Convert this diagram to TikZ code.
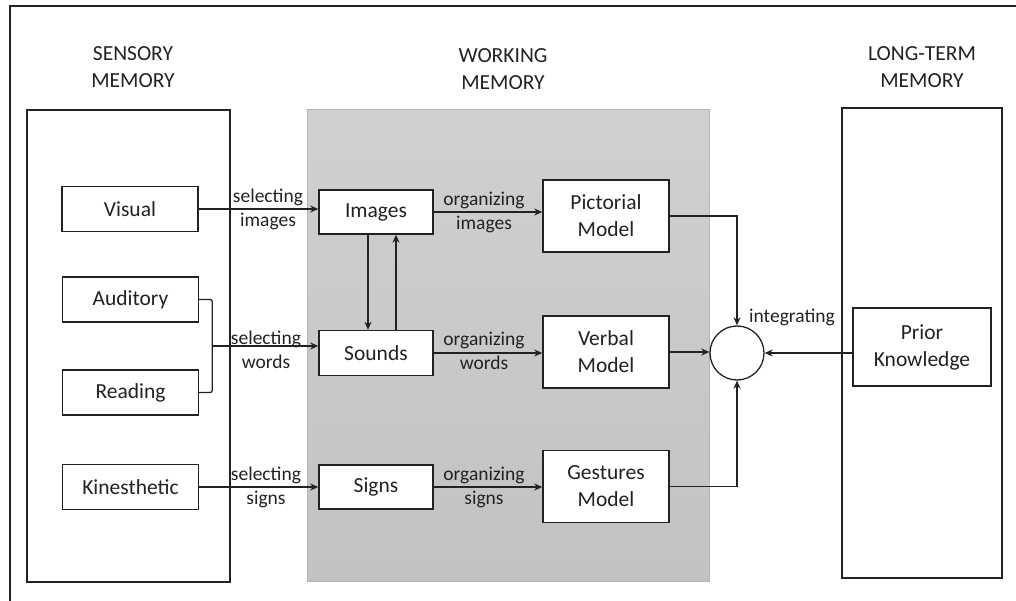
\documentclass[tikz,border=0pt]{standalone}
\usepackage{fontspec}
\setmainfont{Carlito}
\usetikzlibrary{arrows.meta,calc}
\definecolor{ink}{HTML}{222222}
\definecolor{wmtop}{HTML}{D0D0D0}
\definecolor{wmbot}{HTML}{C2C2C2}
\definecolor{wmedge}{HTML}{B4B4B4}
\tikzset{
  box/.style={draw=ink, line width=1.4pt, fill=white, text=ink, inner sep=0pt,
    align=center, font=\fontsize{21.5}{27}\selectfont},
  memhead/.style={text=ink, align=center, font=\fontsize{21.5}{27.5}\selectfont},
  lbl/.style={text=ink, align=center, font=\fontsize{19.5}{24}\selectfont},
  arr/.style={draw=ink, line width=1.3pt, -{Stealth[length=8pt,width=7pt,inset=2.5pt]}},
  wire/.style={draw=ink, line width=1.3pt},
}
\begin{document}
\begin{tikzpicture}[x=1pt,y=-1pt]
\useasboundingbox (0,0) rectangle (1016,601);

% page frame (top and left edges)
\draw[line width=2pt, ink] (10,601) -- (10,6) -- (1016,6);

% three memory stores
\node[draw=ink, line width=1.4pt, minimum width=203pt, minimum height=472pt, inner sep=0pt]
  (sensory) at (128.5,346) {};
\node[draw=wmedge, line width=1pt, top color=wmtop, bottom color=wmbot,
  minimum width=402pt, minimum height=471pt, inner sep=0pt]
  (working) at (508,345.5) {};
\node[draw=ink, line width=1.4pt, minimum width=160pt, minimum height=470pt, inner sep=0pt]
  (longterm) at (922,343) {};

% headings
\node[memhead] (hs) at (133,67) {SENSORY\\MEMORY};
\node[memhead] (hw) at (503,69) {WORKING\\MEMORY};
\node[memhead] (hl) at (922,67) {LONG-TERM\\MEMORY};

% sensory channels
\node[box, minimum width=136pt, minimum height=45pt] (visual) at (130,209) {Visual};
\node[box, minimum width=136pt, minimum height=45pt] (auditory) at (130.5,299.5) {Auditory};
\node[box, minimum width=136pt, minimum height=45pt] (reading) at (130.5,392.5) {Reading};
\node[box, minimum width=136pt, minimum height=45pt] (kines) at (130.5,487) {Kinesthetic};

% working memory representations
\node[box, minimum width=114pt, minimum height=44pt] (images) at (376,212) {Images};
\node[box, minimum width=114pt, minimum height=45pt] (sounds) at (376,353) {Sounds};
\node[box, minimum width=114pt, minimum height=44pt] (signs) at (376,487) {Signs};

\node[box, minimum width=126pt, minimum height=72pt] (pict) at (606,216) {Pictorial\\Model};
\node[box, minimum width=126pt, minimum height=72pt] (verbal) at (606,352) {Verbal\\Model};
\node[box, minimum width=126pt, minimum height=72pt] (gest) at (606,486.5) {Gestures\\Model};

% integration point and prior knowledge
\node[draw=ink, line width=1.3pt, fill=white, circle, minimum size=54pt, inner sep=0pt]
  (integ) at (737,353) {};
\node[lbl] (integlbl) at (792,317) {integrating};
\node[box, minimum width=138pt, minimum height=78pt] (prior) at (922,347) {Prior\\Knowledge};

% selecting
\draw[arr] (visual.east) -- (visual.east -| images.west);
\node[lbl] (selimg) at (268,209) {selecting\\images};

\draw[wire, rounded corners=2pt] (auditory.east) -- ++(13,0) coordinate (bt)
  -- (bt |- reading.east) -- (reading.east);
\coordinate (bmid) at ($(bt)!0.5!(bt |- reading.east)$);
\draw[arr] (bmid) -- (bmid -| sounds.west);
\node[lbl] (selwords) at (266,350) {selecting\\words};

\draw[arr] (kines.east) -- (kines.east -| signs.west);
\node[lbl] (selsigns) at (266,487) {selecting\\signs};

% exchange between images and sounds
\draw[arr] ([xshift=-8pt]images.south) -- ([xshift=-8pt]sounds.north);
\draw[arr] ([xshift=20pt]sounds.north) -- ([xshift=20pt]images.south);

% organizing
\draw[arr] (images.east) -- (images.east -| pict.west);
\node[lbl] (orgimg) at (484,212) {organizing\\images};
\draw[arr] (sounds.east) -- (sounds.east -| verbal.west);
\node[lbl] (orgwords) at (484,351) {organizing\\words};
\draw[arr] (signs.east) -- (signs.east -| gest.west);
\node[lbl] (orgsigns) at (484,487) {organizing\\signs};

% integrating
\draw[arr] (pict.east) -| (integ.north);
\draw[arr] (verbal.east) -- (verbal.east -| integ.west);
\draw[arr] (gest.east) -| (integ.south);
\draw[arr] (prior.west |- integ.east) -- (integ.east);
\end{tikzpicture}
\end{document}
